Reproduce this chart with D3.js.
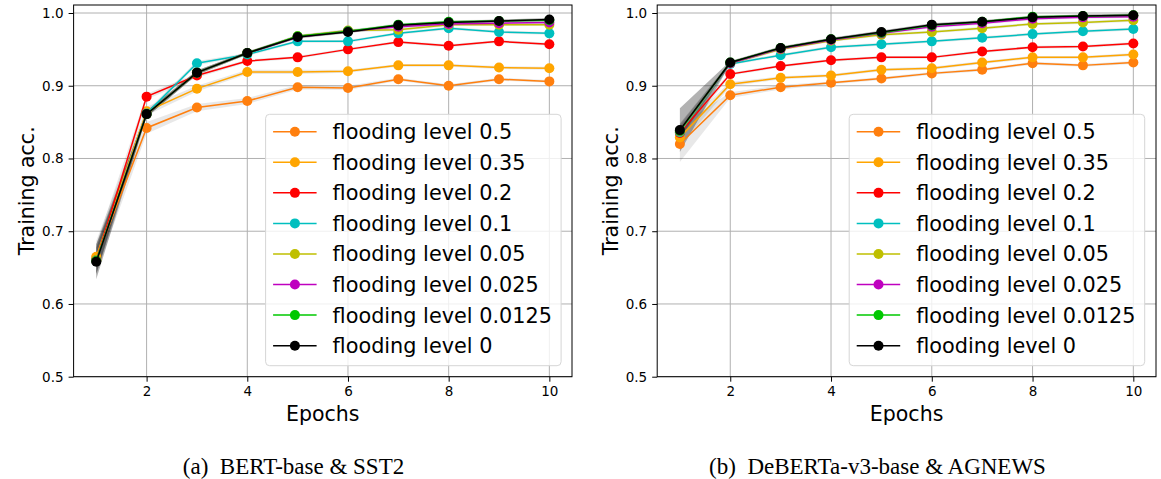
<!DOCTYPE html>
<html>
<head>
<meta charset="utf-8">
<script src="https://cdn.jsdelivr.net/npm/d3@7"></script>
<style>
  body { margin: 0; background: #fff; }
  svg { display: block; }
</style>
</head>
<body>
<div id="container"></div>
<script>
// epochs on the x axis
var epochs = [1, 2, 3, 4, 5, 6, 7, 8, 9, 10];
var xTicks = [2, 4, 6, 8, 10];
var yTicks = [0.5, 0.6, 0.7, 0.8, 0.9, 1.0];

var levels = ["0.5", "0.35", "0.2", "0.1", "0.05", "0.025", "0.0125", "0"];
var colors = ["#ff7f0e", "#ffa500", "#ff0000", "#00bfbf", "#bfbf00", "#bf00bf", "#00c800", "#000000"];

// (a) BERT-base & SST2, one row per flooding level
var bertAcc = [
    [0.662, 0.842, 0.870, 0.879, 0.898, 0.897, 0.909, 0.900, 0.909, 0.906],
    [0.665, 0.865, 0.896, 0.919, 0.919, 0.920, 0.928, 0.928, 0.925, 0.924],
    [0.660, 0.885, 0.914, 0.934, 0.939, 0.950, 0.960, 0.955, 0.961, 0.957],
    [0.660, 0.862, 0.931, 0.943, 0.961, 0.961, 0.972, 0.979, 0.974, 0.972],
    [0.660, 0.861, 0.918, 0.945, 0.968, 0.976, 0.977, 0.984, 0.984, 0.984],
    [0.659, 0.861, 0.918, 0.945, 0.967, 0.975, 0.981, 0.985, 0.986, 0.987],
    [0.659, 0.861, 0.918, 0.945, 0.968, 0.975, 0.984, 0.988, 0.989, 0.990],
    [0.658, 0.861, 0.918, 0.945, 0.967, 0.974, 0.983, 0.987, 0.989, 0.991]
];
var bertStd = [
    [0.020, 0.008, 0.005, 0.004, 0.003, 0.003, 0.002, 0.002, 0.002, 0.002],
    [0.022, 0.006, 0.004, 0.003, 0.003, 0.002, 0.002, 0.002, 0.002, 0.002],
    [0.022, 0.004, 0.003, 0.002, 0.002, 0.002, 0.002, 0.002, 0.002, 0.002],
    [0.018, 0.004, 0.003, 0.002, 0.002, 0.002, 0.002, 0.002, 0.002, 0.002],
    [0.018, 0.004, 0.003, 0.002, 0.002, 0.002, 0.002, 0.002, 0.002, 0.002],
    [0.018, 0.004, 0.003, 0.002, 0.002, 0.002, 0.002, 0.002, 0.002, 0.002],
    [0.018, 0.004, 0.003, 0.002, 0.002, 0.002, 0.002, 0.002, 0.002, 0.002],
    [0.024, 0.004, 0.003, 0.002, 0.002, 0.002, 0.002, 0.002, 0.002, 0.002]
];

// (b) DeBERTa-v3-base & AGNEWS
var debertaAcc = [
    [0.820, 0.887, 0.898, 0.904, 0.910, 0.917, 0.922, 0.931, 0.928, 0.932],
    [0.829, 0.902, 0.911, 0.914, 0.922, 0.924, 0.932, 0.939, 0.939, 0.943],
    [0.835, 0.916, 0.927, 0.935, 0.939, 0.939, 0.947, 0.953, 0.954, 0.958],
    [0.836, 0.930, 0.942, 0.953, 0.957, 0.961, 0.966, 0.971, 0.975, 0.978],
    [0.837, 0.931, 0.950, 0.962, 0.970, 0.974, 0.979, 0.985, 0.987, 0.990],
    [0.838, 0.931, 0.951, 0.963, 0.972, 0.981, 0.986, 0.992, 0.994, 0.995],
    [0.838, 0.932, 0.952, 0.964, 0.973, 0.983, 0.988, 0.995, 0.996, 0.997],
    [0.839, 0.932, 0.952, 0.964, 0.974, 0.984, 0.988, 0.994, 0.996, 0.997]
];
var debertaStd = [
    [0.025, 0.004, 0.003, 0.002, 0.002, 0.002, 0.002, 0.002, 0.002, 0.002],
    [0.012, 0.003, 0.002, 0.002, 0.002, 0.002, 0.002, 0.002, 0.002, 0.002],
    [0.010, 0.002, 0.002, 0.002, 0.002, 0.002, 0.002, 0.002, 0.002, 0.002],
    [0.010, 0.002, 0.002, 0.002, 0.002, 0.002, 0.002, 0.002, 0.002, 0.002],
    [0.010, 0.002, 0.002, 0.002, 0.002, 0.002, 0.002, 0.002, 0.002, 0.002],
    [0.010, 0.002, 0.002, 0.002, 0.002, 0.002, 0.002, 0.002, 0.002, 0.002],
    [0.010, 0.002, 0.002, 0.002, 0.002, 0.002, 0.002, 0.002, 0.002, 0.002],
    [0.030, 0.002, 0.002, 0.002, 0.002, 0.002, 0.002, 0.002, 0.002, 0.002]
];

var svg = d3.select('#container')
    .append('svg')
    .attr('width', 1161)
    .attr('height', 479);

var font = "'DejaVu Sans', sans-serif";

function drawPanel(left, right, acc, std, caption, capX) {
    var top = 5, bottom = 376.7;
    var x = d3.scaleLinear().domain([0.55, 10.45]).range([left, right]);
    var y = d3.scaleLinear().domain([0.5, 1.011]).range([bottom, top]);
    var g = svg.append('g');

    // grid
    g.selectAll('.gx').data(xTicks).enter().append('line')
        .attr('x1', d => x(d)).attr('x2', d => x(d))
        .attr('y1', top).attr('y2', bottom)
        .attr('stroke', '#b0b0b0').attr('stroke-width', 1);
    g.selectAll('.gy').data(yTicks).enter().append('line')
        .attr('x1', left).attr('x2', right)
        .attr('y1', d => y(d)).attr('y2', d => y(d))
        .attr('stroke', '#b0b0b0').attr('stroke-width', 1);

    // std bands
    var area = d3.area()
        .x((d, i) => x(epochs[i]))
        .y0(d => y(d[0] - d[1]))
        .y1(d => y(d[0] + d[1]));
    acc.forEach(function (row, k) {
        var pts = row.map((v, i) => [v, std[k][i]]);
        g.append('path')
            .attr('d', area(pts))
            .attr('fill', '#000')
            .attr('fill-opacity', k == 7 ? 0.3 : 0.09);
    });

    // lines with markers
    var line = d3.line()
        .x((d, i) => x(epochs[i]))
        .y(d => y(d));
    acc.forEach(function (row, k) {
        var s = g.append('g');
        s.append('path')
            .attr('d', line(row))
            .attr('fill', 'none')
            .attr('stroke', colors[k])
            .attr('stroke-width', 1.5);
        s.selectAll('circle').data(row).enter().append('circle')
            .attr('cx', (d, i) => x(epochs[i]))
            .attr('cy', d => y(d))
            .attr('r', 5)
            .attr('fill', colors[k]);
    });

    // axes
    var xAxis = d3.axisBottom(x).tickValues(xTicks).tickSize(5).tickPadding(5);
    var yAxis = d3.axisLeft(y).tickValues(yTicks).tickSize(5).tickPadding(5).tickFormat(d3.format('.1f'));
    var gx = g.append('g').attr('transform', 'translate(0,' + bottom + ')').call(xAxis);
    var gy = g.append('g').attr('transform', 'translate(' + left + ',0)').call(yAxis);
    [gx, gy].forEach(function (a) {
        a.select('.domain').remove();
        a.selectAll('text').attr('font-family', font).attr('font-size', 13.5).attr('fill', '#000');
        a.selectAll('line').attr('stroke', '#000');
    });

    g.append('rect')
        .attr('x', left).attr('y', top)
        .attr('width', right - left).attr('height', bottom - top)
        .attr('fill', 'none').attr('stroke', '#000').attr('stroke-width', 1);

    g.append('text')
        .attr('x', (left + right) / 2).attr('y', 421)
        .attr('text-anchor', 'middle')
        .attr('font-family', font).attr('font-size', 20.5)
        .text('Epochs');
    g.append('text')
        .attr('transform', 'translate(' + (left - 39.5) + ',' + ((top + bottom) / 2) + ') rotate(-90)')
        .attr('text-anchor', 'middle')
        .attr('font-family', font).attr('font-size', 20.5)
        .text('Training acc.');

    // legend
    var lx = left + 192, ly = 114.3, lw = 295.5, lh = 251.4;
    var leg = g.append('g');
    leg.append('rect')
        .attr('x', lx).attr('y', ly).attr('width', lw).attr('height', lh)
        .attr('rx', 4).attr('ry', 4)
        .attr('fill', '#fff').attr('fill-opacity', 0.8)
        .attr('stroke', '#d6d6d6').attr('stroke-width', 1);
    levels.forEach(function (lev, k) {
        var ry = 131.7 + k * 30.57;
        leg.append('line')
            .attr('x1', lx + 7.5).attr('x2', lx + 51)
            .attr('y1', ry).attr('y2', ry)
            .attr('stroke', colors[k]).attr('stroke-width', 1.5);
        leg.append('circle')
            .attr('cx', lx + 29.3).attr('cy', ry).attr('r', 5)
            .attr('fill', colors[k]);
        leg.append('text')
            .attr('x', lx + 67).attr('y', ry + 7.5)
            .attr('font-family', font).attr('font-size', 20.8)
            .text('flooding level ' + lev);
    });

    svg.append('text')
        .attr('x', capX).attr('y', 474)
        .attr('text-anchor', 'middle')
        .attr('font-family', "'Liberation Serif', serif").attr('font-size', 23)
        .style('white-space', 'pre')
        .text(caption);
}

drawPanel(73.6, 572, bertAcc, bertStd, '(a)  BERT-base & SST2', 293.5);
drawPanel(657.2, 1156, debertaAcc, debertaStd, '(b)  DeBERTa-v3-base & AGNEWS', 877.5);
</script>
</body>
</html>
